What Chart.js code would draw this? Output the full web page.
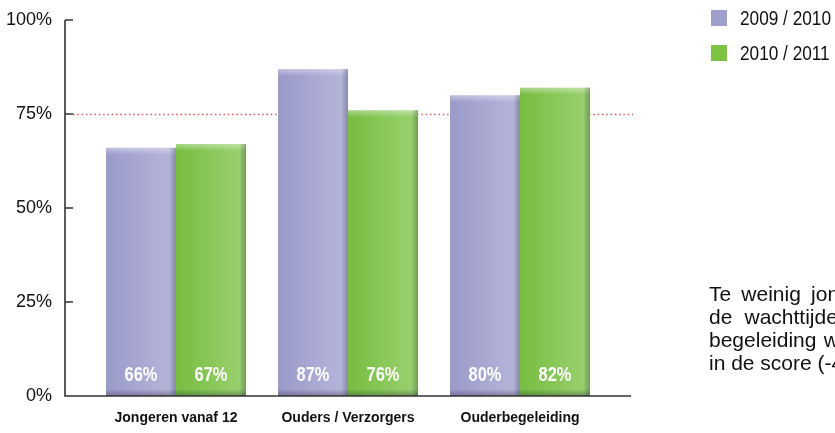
<!DOCTYPE html>
<html>
<head>
<meta charset="utf-8">
<script src="https://cdn.jsdelivr.net/npm/chart.js@4.4.0/dist/chart.umd.min.js"></script>
<style>
    html, body { margin: 0; padding: 0; background: #fff; }
    #wrap { position: relative; width: 835px; height: 433px; overflow: hidden; }
    #note { position: absolute; left: 709px; top: 282px; width: 250px; color: #111;
            font: 21px/23px 'Liberation Sans', Arial, sans-serif; }
    #note .j { text-align: justify; text-align-last: justify; }
</style>
</head>
<body>
<div id="wrap">
    <canvas id="myChart" width="835" height="433"></canvas>
    <div id="note">
        <div class="j">Te weinig jongeren kozen</div>
        <div class="j">de wachttijden tussen de</div>
        <div class="j">begeleiding waren te lang.</div>
        <div>in de score (-4%) terug.</div>
    </div>
</div>
<script>
var categories = ['Jongeren vanaf 12', 'Ouders / Verzorgers', 'Ouderbegeleiding'];
var seriesNames = ['2009 / 2010', '2010 / 2011'];
var values0910 = [66, 87, 80];
var values1011 = [67, 76, 82];
var yTicks = [0, 25, 50, 75, 100];
var targetLine = 75;

var FONT = "'Liberation Sans', Arial, sans-serif";
var NARROW = 0.82; // geen Arial Narrow aanwezig, dus tekst horizontaal schalen
var catPct = 0.814;

// kleuren: [links, rechts, legenda]
var colors = [
    ['#9a9aca', '#b4b4da', '#9f9fcd'],
    ['#76bd40', '#98d06d', '#7dc243']
];

// horizontale gradient per staaf
function barGradient(ctx) {
    var chart = ctx.chart;
    var xs = chart.scales.x;
    if (!xs || !chart.chartArea) return colors[ctx.datasetIndex][2];
    var center = xs.getPixelForValue(ctx.dataIndex);
    var bw = xs.width / categories.length * catPct / 2;
    var left = ctx.datasetIndex === 0 ? center - bw : center;
    var g = chart.ctx.createLinearGradient(left, 0, left + bw, 0);
    var c = colors[ctx.datasetIndex];
    g.addColorStop(0, c[0]);
    g.addColorStop(0.9, c[1]);
    g.addColorStop(1, c[1]);
    return g;
}

function narrowText(ctx, text, x, y) {
    ctx.save();
    ctx.translate(x, y);
    ctx.scale(NARROW, 1);
    ctx.fillText(text, 0, 0);
    ctx.restore();
}

// assen, stippellijn, legenda en labels
var decor = {
    id: 'decor',
    beforeDatasetsDraw: function (chart) {
        var ctx = chart.ctx;
        var y = Math.round(chart.scales.y.getPixelForValue(targetLine)) + 0.5;
        ctx.save();
        ctx.strokeStyle = '#e35a5a';
        ctx.lineWidth = 1.5;
        ctx.setLineDash([1.5, 2.8]);
        ctx.beginPath();
        ctx.moveTo(73, y);
        ctx.lineTo(633, y);
        ctx.stroke();
        ctx.restore();
    },
    afterDatasetsDraw: function (chart) {
        var ctx = chart.ctx;
        ctx.save();
        chart.data.datasets.forEach(function (ds, di) {
            chart.getDatasetMeta(di).data.forEach(function (el, i) {
                var l = el.x - el.width / 2, r = el.x + el.width / 2;
                var t = el.y, b = el.base;
                // bovenrand licht
                var g = ctx.createLinearGradient(0, t, 0, t + 7);
                g.addColorStop(0, 'rgba(255,255,255,0.4)');
                g.addColorStop(1, 'rgba(255,255,255,0)');
                ctx.fillStyle = g;
                ctx.fillRect(l, t, el.width, 7);
                // rechterrand schaduw
                g = ctx.createLinearGradient(r - 7, 0, r, 0);
                g.addColorStop(0, 'rgba(30,30,50,0)');
                g.addColorStop(1, 'rgba(30,30,50,0.3)');
                ctx.fillStyle = g;
                ctx.fillRect(r - 7, t, 7, b - t);
                // onderrand schaduw
                g = ctx.createLinearGradient(0, b - 7, 0, b);
                g.addColorStop(0, 'rgba(30,30,50,0)');
                g.addColorStop(1, 'rgba(30,30,50,0.35)');
                ctx.fillStyle = g;
                ctx.fillRect(l, b - 7, el.width, 7);
                // waarde
                ctx.fillStyle = '#fff';
                ctx.font = 'bold 20px ' + FONT;
                ctx.textAlign = 'center';
                ctx.textBaseline = 'middle';
                narrowText(ctx, ds.data[i] + '%', el.x, b - 21);
            });
        });
        ctx.restore();
    },
    afterDraw: function (chart) {
        var ctx = chart.ctx;
        var ys = chart.scales.y;
        var y0 = ys.getPixelForValue(0), y1 = ys.getPixelForValue(100);
        ctx.save();
        ctx.strokeStyle = '#333';
        ctx.lineWidth = 1.6;
        ctx.beginPath();
        ctx.moveTo(65, y1);
        ctx.lineTo(65, y0);
        ctx.lineTo(631, y0);
        yTicks.forEach(function (v) {
            if (v === 0) return;
            var yy = ys.getPixelForValue(v);
            ctx.moveTo(65, yy);
            ctx.lineTo(73, yy);
        });
        ctx.stroke();
        // legenda
        ctx.font = '21px ' + FONT;
        ctx.textBaseline = 'middle';
        ctx.textAlign = 'left';
        chart.data.datasets.forEach(function (ds, i) {
            ctx.fillStyle = colors[i][2];
            ctx.fillRect(711, 10 + 35 * i, 16, 16);
            ctx.fillStyle = '#111';
            narrowText(ctx, ds.label, 740, 19 + 35 * i);
        });
        ctx.restore();
    }
};

new Chart(document.getElementById('myChart'), {
    type: 'bar',
    data: {
        labels: categories,
        datasets: [
            { label: seriesNames[0], data: values0910, backgroundColor: barGradient },
            { label: seriesNames[1], data: values1011, backgroundColor: barGradient }
        ]
    },
    options: {
        responsive: false,
        animation: false,
        layout: { autoPadding: false, padding: { top: 20, right: 229, bottom: 0, left: 0 } },
        datasets: { bar: { categoryPercentage: catPct, barPercentage: 1, borderWidth: 0 } },
        plugins: { legend: { display: false }, tooltip: { enabled: false } },
        scales: {
            x: {
                grid: { display: false, drawTicks: false },
                border: { display: false },
                ticks: { color: '#111', padding: 14, maxRotation: 0, font: { family: FONT, size: 14, weight: 'bold' } },
                afterFit: function (s) { s.height = 37; s.paddingLeft = 0; s.paddingRight = 0; }
            },
            y: {
                min: 0, max: 100,
                grid: { display: false, drawTicks: false },
                border: { display: false },
                afterBuildTicks: function (s) { s.ticks = yTicks.map(function (v) { return { value: v }; }); },
                ticks: { color: '#111', padding: 38, font: { family: FONT, size: 18 },
                         callback: function (v) { return v + '%'; } },
                afterFit: function (s) { s.width = 90; s.paddingTop = 0; s.paddingBottom = 0; }
            }
        }
    },
    plugins: [decor]
});
</script>
</body>
</html>
